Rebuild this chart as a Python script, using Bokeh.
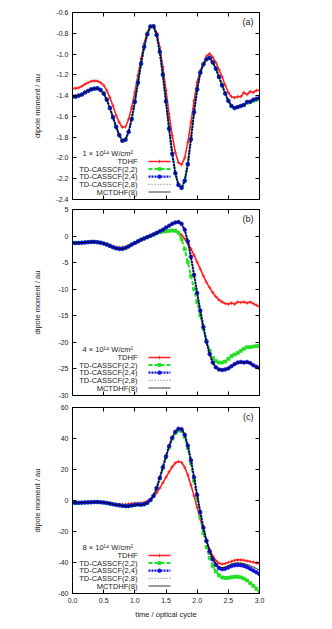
import math
from bokeh.plotting import figure
from bokeh.models import (LinearAxis, FixedTicker, NumeralTickFormatter, Label, Range1d,
                          CustomJSTickFormatter)
from bokeh.layouts import column
from bokeh.embed import file_html
from bokeh.resources import INLINE

# ---------------- data ----------------
time = [0.0, 0.05, 0.1, 0.15, 0.2, 0.25, 0.3, 0.35, 0.4, 0.45,
        0.5, 0.55, 0.6, 0.65, 0.7, 0.75, 0.8, 0.85, 0.9, 0.95,
        1.0, 1.05, 1.1, 1.15, 1.2, 1.25, 1.3, 1.35, 1.4, 1.45,
        1.5, 1.55, 1.6, 1.65, 1.7, 1.75, 1.8, 1.85, 1.9, 1.95,
        2.0, 2.05, 2.1, 2.15, 2.2, 2.25, 2.3, 2.35, 2.4, 2.45,
        2.5, 2.55, 2.6, 2.65, 2.7, 2.75, 2.8, 2.85, 2.9, 2.95,
        3.0]

series_names = ["TDHF", "TD-CASSCF(2,2)", "TD-CASSCF(2,4)", "TD-CASSCF(2,8)", "MCTDHF(8)"]
intensities = ["1 \u00d7 10\u00b9\u2074 W/cm\u00b2", "4 \u00d7 10\u00b9\u2074 W/cm\u00b2", "8 \u00d7 10\u00b9\u2074 W/cm\u00b2"]
panel_tags = ["(a)", "(b)", "(c)"]

# panel (a): 1e14 W/cm2
a_tdhf = [-1.33, -1.33, -1.325, -1.31, -1.29, -1.275, -1.262, -1.257, -1.26, -1.275,
          -1.30, -1.35, -1.42, -1.50, -1.59, -1.66, -1.705, -1.70, -1.627, -1.513,
          -1.369, -1.206, -1.044, -0.899, -0.79, -0.728, -0.725, -0.795, -0.935, -1.126,
          -1.349, -1.577, -1.785, -1.947, -2.044, -2.065, -2.00, -1.85, -1.66, -1.45,
          -1.27, -1.16, -1.09, -1.02, -0.995, -1.03, -1.08, -1.15, -1.22, -1.30,
          -1.37, -1.41, -1.42, -1.41, -1.41, -1.37, -1.39, -1.36, -1.37, -1.35,
          -1.35]
a_cas22 = [-1.41, -1.41, -1.40, -1.39, -1.37, -1.355, -1.34, -1.333, -1.33, -1.345,
           -1.38, -1.44, -1.52, -1.61, -1.70, -1.78, -1.835, -1.825, -1.75, -1.625,
           -1.46, -1.275, -1.093, -0.93, -0.809, -0.735, -0.733, -0.817, -0.978, -1.20,
           -1.457, -1.72, -1.96, -2.148, -2.26, -2.288, -2.22, -2.06, -1.82, -1.56,
           -1.34, -1.18, -1.10, -1.05, -1.035, -1.08, -1.14, -1.22, -1.30, -1.38,
           -1.45, -1.50, -1.52, -1.51, -1.50, -1.49, -1.47, -1.46, -1.45, -1.44,
           -1.43]
a_cas24 = [-1.41, -1.41, -1.40, -1.39, -1.37, -1.355, -1.34, -1.333, -1.33, -1.345,
           -1.38, -1.44, -1.52, -1.61, -1.70, -1.78, -1.835, -1.825, -1.75, -1.625,
           -1.46, -1.275, -1.093, -0.93, -0.809, -0.735, -0.733, -0.817, -0.978, -1.20,
           -1.457, -1.72, -1.96, -2.148, -2.26, -2.288, -2.22, -2.06, -1.82, -1.56,
           -1.34, -1.18, -1.10, -1.05, -1.035, -1.08, -1.14, -1.22, -1.30, -1.38,
           -1.45, -1.50, -1.52, -1.51, -1.50, -1.49, -1.46, -1.46, -1.44, -1.43,
           -1.42]
a_cas28 = [-1.41, -1.41, -1.40, -1.39, -1.37, -1.355, -1.34, -1.333, -1.33, -1.345,
           -1.38, -1.44, -1.52, -1.61, -1.70, -1.78, -1.835, -1.825, -1.75, -1.625,
           -1.46, -1.275, -1.093, -0.93, -0.809, -0.735, -0.733, -0.817, -0.978, -1.20,
           -1.457, -1.72, -1.96, -2.148, -2.26, -2.288, -2.22, -2.06, -1.82, -1.56,
           -1.34, -1.18, -1.10, -1.05, -1.035, -1.08, -1.14, -1.22, -1.30, -1.38,
           -1.45, -1.50, -1.52, -1.51, -1.50, -1.49, -1.46, -1.46, -1.44, -1.43,
           -1.42]
a_mctdhf = [-1.41, -1.41, -1.40, -1.39, -1.37, -1.355, -1.34, -1.333, -1.33, -1.345,
            -1.38, -1.44, -1.52, -1.61, -1.70, -1.78, -1.835, -1.825, -1.75, -1.625,
            -1.46, -1.275, -1.093, -0.93, -0.809, -0.735, -0.733, -0.817, -0.978, -1.20,
            -1.457, -1.72, -1.96, -2.148, -2.26, -2.288, -2.22, -2.06, -1.82, -1.56,
            -1.34, -1.18, -1.10, -1.05, -1.035, -1.08, -1.14, -1.22, -1.30, -1.38,
            -1.45, -1.50, -1.52, -1.51, -1.50, -1.49, -1.46, -1.46, -1.44, -1.43,
            -1.42]

# panel (b): 4e14 W/cm2
b_tdhf = [-1.3, -1.3, -1.3, -1.25, -1.2, -1.15, -1.1, -1.1, -1.15, -1.25,
          -1.4, -1.55, -1.75, -1.95, -2.1, -2.15, -2.1, -2.0, -1.8, -1.55,
          -1.3, -1.0, -0.7, -0.45, -0.2, 0.05, 0.3, 0.5, 0.7, 0.8,
          0.9, 1.0, 1.05, 1.0, 0.7, 0.2, -0.5, -1.3, -2.4, -3.6,
          -4.9, -6.2, -7.5, -8.7, -9.7, -10.6, -11.4, -12.0, -12.4, -12.7,
          -12.8, -12.6, -12.8, -12.4, -12.5, -12.4, -12.6, -12.4, -12.7, -13.0,
          -13.3]
b_cas22 = [-1.3, -1.3, -1.3, -1.25, -1.2, -1.15, -1.1, -1.1, -1.15, -1.25,
           -1.4, -1.6, -1.85, -2.1, -2.3, -2.4, -2.4, -2.25, -1.95, -1.6,
           -1.3, -1.0, -0.7, -0.45, -0.2, 0.05, 0.3, 0.55, 0.75, 0.85,
           0.9, 1.0, 1.05, 1.0, 0.6, -0.6, -2.5, -4.9, -7.5, -10.0,
           -12.4, -14.9, -17.4, -19.7, -21.6, -22.9, -23.5, -23.8, -23.8, -23.6,
           -23.1, -22.6, -22.3, -22.0, -21.6, -21.2, -20.9, -20.9, -20.8, -20.7,
           -20.7]
b_cas24 = [-1.3, -1.3, -1.3, -1.25, -1.2, -1.15, -1.1, -1.1, -1.15, -1.25,
           -1.4, -1.6, -1.85, -2.1, -2.3, -2.4, -2.4, -2.25, -1.95, -1.6,
           -1.3, -1.0, -0.7, -0.45, -0.2, 0.05, 0.3, 0.6, 0.9, 1.2,
           1.6, 1.95, 2.3, 2.55, 2.65, 2.3, 1.2, -1.0, -3.9, -7.3,
           -10.7, -14.0, -17.1, -19.9, -22.2, -23.8, -24.7, -25.1, -25.2, -25.1,
           -24.9, -24.5, -24.1, -23.8, -23.7, -23.8, -23.7, -23.9, -24.3, -24.6,
           -24.8]
b_cas28 = [-1.3, -1.3, -1.3, -1.25, -1.2, -1.15, -1.1, -1.1, -1.15, -1.25,
           -1.4, -1.6, -1.85, -2.1, -2.3, -2.4, -2.4, -2.25, -1.95, -1.6,
           -1.3, -1.0, -0.7, -0.45, -0.2, 0.05, 0.3, 0.6, 0.9, 1.2,
           1.6, 1.95, 2.3, 2.55, 2.65, 2.3, 1.2, -1.0, -3.9, -7.3,
           -10.7, -14.0, -17.1, -19.9, -22.2, -23.8, -24.7, -25.1, -25.2, -25.1,
           -24.9, -24.5, -24.1, -23.8, -23.7, -23.8, -23.7, -23.9, -24.3, -24.6,
           -24.8]
b_mctdhf = [-1.3, -1.3, -1.3, -1.25, -1.2, -1.15, -1.1, -1.1, -1.15, -1.25,
            -1.4, -1.6, -1.85, -2.1, -2.3, -2.4, -2.4, -2.25, -1.95, -1.6,
            -1.3, -1.0, -0.7, -0.45, -0.2, 0.05, 0.3, 0.6, 0.9, 1.2,
            1.6, 1.95, 2.3, 2.55, 2.65, 2.3, 1.2, -1.0, -3.9, -7.3,
            -10.7, -14.0, -17.1, -19.9, -22.2, -23.8, -24.7, -25.1, -25.2, -25.1,
            -24.9, -24.5, -24.1, -23.8, -23.7, -23.8, -23.7, -23.9, -24.3, -24.6,
            -24.8]

# panel (c): 8e14 W/cm2
c_tdhf = [-1.5, -1.5, -1.5, -1.4, -1.3, -1.2, -1.1, -1.0, -1.0, -1.1,
          -1.3, -1.6, -1.9, -2.2, -2.4, -2.5, -2.6, -2.6, -2.3, -2.0,
          -1.8, -1.8, -1.6, -1.2, -0.4, 0.8, 2.5, 5.0, 8.0, 11.5,
          15.0, 18.5, 21.8, 24.2, 25.2, 24.5, 21.5, 16.5, 10.0, 3.0,
          -4.5, -12.0, -19.5, -26.0, -31.5, -35.8, -38.8, -40.5, -41.0, -40.7,
          -40.0, -39.3, -38.6, -38.3, -38.3, -38.6, -39.0, -39.4, -39.8, -40.3,
          -40.8]
c_cas22 = [-1.5, -1.5, -1.5, -1.4, -1.3, -1.2, -1.1, -1.0, -1.0, -1.1,
           -1.3, -1.6, -2.0, -2.4, -2.8, -3.1, -3.4, -3.6, -3.6, -3.2,
           -2.8, -2.6, -2.7, -2.4, -1.5, 0.3, 3.0, 7.8, 14.2, 21.0,
           28.0, 34.4, 39.8, 43.4, 45.2, 44.8, 41.0, 33.8, 24.0, 12.8,
           1.0, -10.5, -21.0, -30.0, -37.0, -42.2, -45.8, -48.3, -49.6, -50.0,
           -49.9, -49.5, -49.2, -49.2, -49.6, -50.4, -51.6, -53.2, -55.0, -57.0,
           -59.0]
c_cas24 = [-1.5, -1.5, -1.5, -1.4, -1.3, -1.2, -1.1, -1.0, -1.0, -1.1,
           -1.3, -1.6, -2.0, -2.4, -2.8, -3.1, -3.4, -3.6, -3.6, -3.2,
           -2.8, -2.6, -2.7, -2.4, -1.5, 0.3, 3.0, 8.0, 14.5, 21.5,
           28.5, 35.0, 40.5, 44.3, 46.3, 46.0, 42.5, 35.5, 26.0, 15.0,
           3.5, -7.5, -17.5, -26.0, -32.8, -38.0, -41.5, -43.6, -44.3, -44.0,
           -43.2, -42.3, -41.8, -41.6, -41.7, -42.2, -43.0, -44.0, -45.2, -46.3,
           -47.5]
c_cas28 = [-1.5, -1.5, -1.5, -1.4, -1.3, -1.2, -1.1, -1.0, -1.0, -1.1,
           -1.3, -1.6, -2.0, -2.4, -2.8, -3.1, -3.4, -3.6, -3.6, -3.2,
           -2.8, -2.6, -2.7, -2.4, -1.5, 0.3, 3.0, 8.0, 14.5, 21.5,
           28.5, 35.0, 40.5, 44.3, 46.3, 46.0, 42.5, 35.5, 26.0, 15.0,
           3.5, -7.5, -17.5, -26.0, -32.8, -37.9, -41.2, -43.0, -43.7, -43.4,
           -42.5, -41.5, -40.9, -40.7, -40.8, -41.2, -41.9, -42.7, -43.7, -44.8,
           -46.0]
c_mctdhf = [-1.5, -1.5, -1.5, -1.4, -1.3, -1.2, -1.1, -1.0, -1.0, -1.1,
            -1.3, -1.6, -2.0, -2.4, -2.8, -3.1, -3.4, -3.6, -3.6, -3.2,
            -2.8, -2.6, -2.7, -2.4, -1.5, 0.3, 3.0, 8.0, 14.5, 21.5,
            28.5, 35.0, 40.5, 44.4, 46.5, 46.2, 42.6, 35.5, 26.0, 15.0,
            3.5, -7.5, -17.5, -26.0, -32.7, -37.7, -41.0, -42.8, -43.4, -43.0,
            -42.0, -41.0, -40.4, -40.2, -40.3, -40.7, -41.3, -42.0, -42.9, -43.9,
            -45.0]

x_ticks = [0.0, 0.5, 1.0, 1.5, 2.0, 2.5, 3.0]
a_ticks = [-2.4, -2.2, -2.0, -1.8, -1.6, -1.4, -1.2, -1.0, -0.8, -0.6]
b_ticks = [-30, -25, -20, -15, -10, -5, 0, 5]
c_ticks = [-60, -40, -20, 0, 20, 40, 60]

# ---------------- styling ----------------
FONT = "Liberation Sans"
FW = 187
TXT = "#222222"
styles = [
    dict(color="#ff2020", dash="solid", width=1.6, marker="cross", msize=3.5),
    dict(color="#22e022", dash="4 2", width=2.0, marker="square", msize=3.0),
    dict(color="#1010e0", dash="2 1", width=2.2, marker="circle", msize=3.6),
    dict(color="#444444", dash="1 2", width=0.8, marker=None, msize=0),
    dict(color="#000000", dash="solid", width=0.8, marker=None, msize=0),
]


def style_axis(ax, ticks, fmt, show_labels):
    ax.ticker = FixedTicker(ticks=ticks)
    ax.major_tick_in = 4
    ax.major_tick_out = 0
    ax.minor_tick_line_color = None
    ax.axis_line_color = "black"
    ax.major_tick_line_color = "black"
    ax.major_label_text_font = FONT
    ax.major_label_text_color = TXT
    if show_labels:
        ax.formatter = NumeralTickFormatter(format=fmt)
        ax.major_label_text_font_size = "7px"
        ax.major_label_standoff = 4
    else:
        ax.formatter = CustomJSTickFormatter(code="return '';")
        ax.major_label_text_font_size = "1px"
        ax.major_label_standoff = 0


def make_panel(data, ylo, yhi, yticks, yfmt, tag, intensity, fh, top, bottom, show_x, ylab_standoff):
    p = figure(frame_width=FW, frame_height=fh,
               x_range=Range1d(0, 3), y_range=Range1d(ylo, yhi),
               output_backend="svg", toolbar_location=None,
               min_border_left=72, min_border_right=10,
               min_border_top=top, min_border_bottom=bottom)
    p.grid.visible = False
    p.outline_line_color = "black"
    p.background_fill_color = "white"
    p.border_fill_color = "white"

    below_ax = p.below[0]
    left_ax = p.left[0]
    style_axis(below_ax, x_ticks, "0.0", show_x)
    style_axis(left_ax, yticks, yfmt, True)
    top_ax = LinearAxis()
    style_axis(top_ax, x_ticks, "0.0", False)
    p.add_layout(top_ax, "above")
    right_ax = LinearAxis()
    style_axis(right_ax, yticks, yfmt, False)
    p.add_layout(right_ax, "right")

    left_ax.axis_label = "dipole moment / au"
    left_ax.axis_label_text_font = FONT
    left_ax.axis_label_text_font_size = "7.5px"
    left_ax.axis_label_text_font_style = "normal"
    left_ax.axis_label_text_color = TXT
    left_ax.axis_label_standoff = ylab_standoff

    if show_x:
        below_ax.axis_label = "time / optical cycle"
        below_ax.axis_label_text_font = FONT
        below_ax.axis_label_text_font_size = "7.5px"
        below_ax.axis_label_text_font_style = "normal"
        below_ax.axis_label_text_color = TXT
        below_ax.axis_label_standoff = 4

    for ys, st in zip(data, styles):
        p.line(time, ys, line_color=st["color"], line_width=st["width"], line_dash=st["dash"])
        if st["marker"]:
            p.scatter(time, ys, marker=st["marker"], size=st["msize"],
                      line_color=st["color"], fill_color=st["color"], line_width=0.8)

    # panel tag
    p.add_layout(Label(x=FW - 6, y=fh - 9, x_units="screen", y_units="screen",
                       text=tag, text_align="right", text_baseline="middle",
                       text_font=FONT, text_font_size="9px", text_color=TXT))

    # legend (gnuplot style: text then sample line)
    p.add_layout(Label(x=10, y=46, x_units="screen", y_units="screen",
                       text=intensity, text_align="left", text_baseline="middle",
                       text_font=FONT, text_font_size="7.5px", text_color=TXT))
    rows = [38, 30.5, 22.8, 15.2, 7.5]
    sx = FW / 3.0
    sy = fh / (yhi - ylo)
    for name, st, ry in zip(series_names, styles, rows):
        p.add_layout(Label(x=65, y=ry, x_units="screen", y_units="screen",
                           text=name, text_align="right", text_baseline="middle",
                           text_font=FONT, text_font_size="7.5px", text_color=TXT))
        yd = ylo + ry / sy
        p.line([76 / sx, 98 / sx], [yd, yd], line_color=st["color"],
               line_width=st["width"], line_dash=st["dash"])
        if st["marker"]:
            p.scatter([87 / sx], [yd], marker=st["marker"], size=st["msize"],
                      line_color=st["color"], fill_color=st["color"], line_width=0.8)
    return p


pa = make_panel([a_tdhf, a_cas22, a_cas24, a_cas28, a_mctdhf], -2.4, -0.6, a_ticks, "0.0",
                panel_tags[0], intensities[0], 187, 12, 4, False, 11)
pb = make_panel([b_tdhf, b_cas22, b_cas24, b_cas28, b_mctdhf], -30, 5, b_ticks, "0",
                panel_tags[1], intensities[1], 186, 6, 5, False, 13)
pc = make_panel([c_tdhf, c_cas22, c_cas24, c_cas28, c_mctdhf], -60, 60, c_ticks, "0",
                panel_tags[2], intensities[2], 186, 7, 28, True, 13)

layout = column(pa, pb, pc, spacing=0)
open("out.html", "w").write(file_html(layout, INLINE))
